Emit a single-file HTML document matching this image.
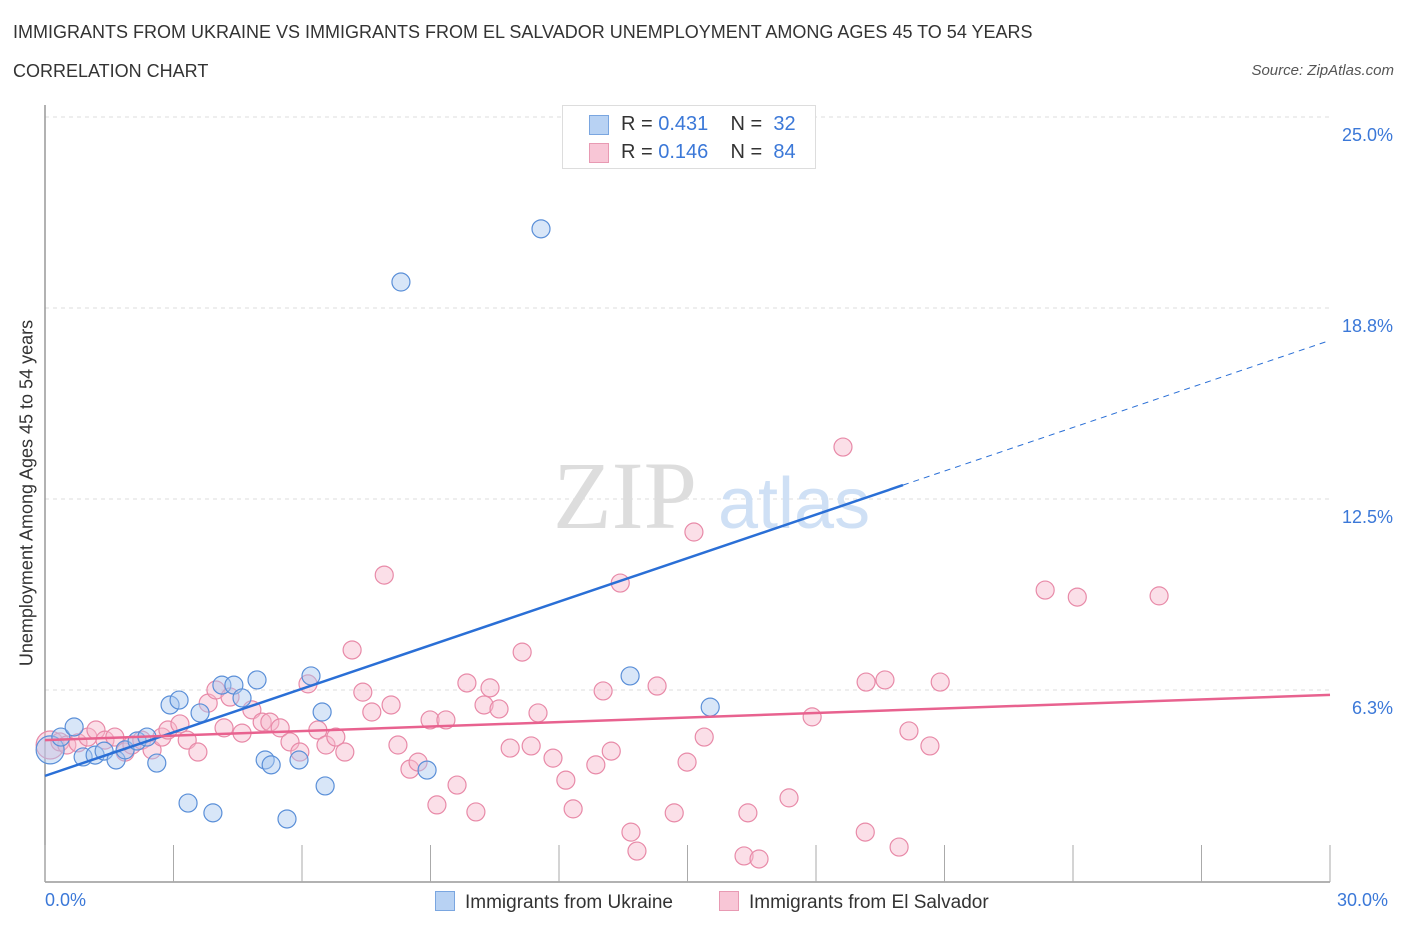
<!DOCTYPE html>
<html><head><meta charset="utf-8">
<style>
body{margin:0;background:#fff;font-family:"Liberation Sans",sans-serif;}
#wrap{position:relative;width:1406px;height:930px;overflow:hidden;}
.t{position:absolute;white-space:nowrap;}
</style></head><body>
<div id="wrap">
<div class="t" style="left:13px;top:22px;font-size:18px;color:#333;">IMMIGRANTS FROM UKRAINE VS IMMIGRANTS FROM EL SALVADOR UNEMPLOYMENT AMONG AGES 45 TO 54 YEARS</div>
<div class="t" style="left:13px;top:61px;font-size:18px;color:#333;">CORRELATION CHART</div>
<div class="t" style="right:12px;top:62px;font-size:15px;color:#555;font-style:italic;">Source: ZipAtlas.com</div>
<svg id="svg" width="1406" height="930" style="position:absolute;left:0;top:0;"></svg>
</div>
<script>
const ukraineX=[0.12,0.37,0.68,0.89,1.17,1.38,1.66,1.87,2.15,2.38,2.61,2.92,3.13,3.34,3.62,3.92,4.13,4.41,4.60,4.95,5.14,5.28,5.65,5.93,6.21,6.47,6.54,8.31,8.92,11.58,13.66,15.53];
const ukraineY=[4.29,4.71,5.04,4.06,4.12,4.25,3.96,4.29,4.58,4.71,3.86,5.76,5.92,2.55,5.50,2.23,6.41,6.41,5.99,6.58,3.96,3.80,2.03,3.96,6.71,5.53,3.11,19.60,3.63,21.34,6.71,5.69];
const salvX=[0.12,0.35,0.51,0.77,1.00,1.19,1.40,1.63,1.87,2.03,2.26,2.50,2.73,2.87,3.15,3.32,3.57,3.81,3.99,4.18,4.32,4.60,4.83,5.07,5.25,5.49,5.72,5.95,6.14,6.37,6.56,6.79,7.00,7.17,7.42,7.63,7.92,8.08,8.24,8.52,8.71,8.99,9.15,9.36,9.62,9.85,10.06,10.25,10.39,10.60,10.86,11.14,11.35,11.51,11.86,12.16,12.33,12.86,13.03,13.22,13.43,13.68,13.82,14.29,14.69,14.99,15.15,15.39,16.32,16.41,16.67,17.37,17.91,18.63,19.15,19.17,19.61,19.94,20.17,20.66,20.90,23.35,24.10,26.01];
const salvY=[4.45,4.55,4.45,4.52,4.71,4.94,4.61,4.71,4.22,4.45,4.61,4.29,4.71,4.94,5.14,4.61,4.22,5.82,6.25,5.01,6.02,4.84,5.60,5.20,5.20,5.01,4.55,4.22,6.45,4.94,4.45,4.71,4.22,7.56,6.18,5.53,10.01,5.76,4.45,3.66,3.89,5.27,2.49,5.27,3.14,6.48,2.26,5.76,6.32,5.63,4.35,7.49,4.42,5.50,4.02,3.30,2.36,3.80,6.22,4.25,9.75,1.60,0.98,6.38,2.23,3.89,11.42,4.71,0.82,2.23,0.72,2.72,5.37,14.20,1.60,6.51,6.58,1.11,4.91,4.42,6.51,9.52,9.29,9.33];
const yTicks=[6.25,12.5,18.75,25];
const yTickLabels=["6.3%","12.5%","18.8%","25.0%"];
const xTicks=[0,3,6,9,12,15,18,21,24,27,30];
const blueTrend=[3.44,0.475]; // intercept, slope
const pinkTrend=[4.61,0.0493];

const X=v=>45+v*(1285/30), Y=v=>881-v*(764/25);
const svg=document.getElementById('svg');
const NS='http://www.w3.org/2000/svg';
function mk(tag,a){const e=document.createElementNS(NS,tag);for(const k in a)e.setAttribute(k,a[k]);svg.appendChild(e);return e;}
// gridlines
yTicks.forEach((t,i)=>{
 const g=mk('line',{x1:45,x2:1330,y1:Y(t),y2:Y(t),stroke:'#ddd','stroke-dasharray':'4,4'});
 
 
 const l=mk('text',{x:1393,y:Y(t)+24,'text-anchor':'end','font-size':18,fill:'#3b78d8','font-family':'Liberation Sans'});
 l.textContent=yTickLabels[i];
 
 
});
mk('line',{x1:45,x2:1330,y1:Y(25),y2:Y(25),stroke:'#ddd','stroke-dasharray':'4,4'});
// axes
const ya=mk('line',{x1:45,x2:45,y1:105,y2:882,stroke:'#999','stroke-width':1.5});


const xa=mk('line',{x1:45,x2:1330,y1:882,y2:882,stroke:'#999','stroke-width':1.5});


xTicks.forEach(t=>{const k=mk('line',{x1:X(t),x2:X(t),y1:845,y2:882,stroke:'#aaa'});
 
 });
// watermark
const w1=mk('text',{x:553,y:528,'font-size':96,fill:'#ddd','font-family':'Liberation Serif'});w1.textContent='ZIP';


const w2=mk('text',{x:718,y:528,'font-size':72,fill:'#cfe0f5','font-family':'Liberation Sans'});w2.textContent='atlas';


// points
function pts(xs,ys,fill,stroke,name){xs.forEach((x,i)=>{
 const c=mk('circle',{cx:X(x),cy:Y(ys[i]),r:i===0?14:9,fill:fill,'fill-opacity':0.45,stroke:stroke,'stroke-width':1.2});
 
 });}
pts(salvX,salvY,'#f6b8cb','#e88aa8','point-el-salvador');
pts(ukraineX,ukraineY,'#a9c8ef','#5a8fd8','point-ukraine');
// trend lines
const bx=20.03;
const b1=mk('line',{x1:X(0),y1:Y(blueTrend[0]),x2:X(bx),y2:Y(blueTrend[0]+blueTrend[1]*bx),stroke:'#2a6fd6','stroke-width':2.5});


const b2=mk('line',{x1:X(bx),y1:Y(blueTrend[0]+blueTrend[1]*bx),x2:X(30),y2:Y(blueTrend[0]+blueTrend[1]*30),stroke:'#2a6fd6','stroke-width':1,'stroke-dasharray':'6,5'});


const p1=mk('line',{x1:X(0),y1:Y(pinkTrend[0]),x2:X(30),y2:Y(pinkTrend[0]+pinkTrend[1]*30),stroke:'#e8628f','stroke-width':2.5});


</script>
<div class="t" style="left:45px;top:890px;font-size:18px;color:#3b78d8;">0.0%</div>
<div class="t" style="left:1337px;top:890px;font-size:18px;color:#3b78d8;">30.0%</div>
<div class="t" style="left:27px;top:493px;font-size:18px;color:#333;transform:translate(-50%,-50%) rotate(-90deg);">Unemployment Among Ages 45 to 54 years</div>
<div style="position:absolute;left:562px;top:105px;width:252px;height:62px;border:1px solid #ddd;background:#fff;font-size:20px;color:#333;">
 <div style="position:absolute;left:26px;top:9px;width:18px;height:18px;background:#b8d2f3;border:1px solid #7aa6e0;"></div>
 <div class="t" style="left:58px;top:7px;">R = <span style="color:#3b78d8">0.431</span>&nbsp;&nbsp;&nbsp; N = &nbsp;<span style="color:#3b78d8">32</span></div>
 <div style="position:absolute;left:26px;top:37px;width:18px;height:18px;background:#f8c6d6;border:1px solid #e89ab3;"></div>
 <div class="t" style="left:58px;top:35px;">R = <span style="color:#3b78d8">0.146</span>&nbsp;&nbsp;&nbsp; N = &nbsp;<span style="color:#3b78d8">84</span></div>
</div>
<div style="position:absolute;left:435px;top:891px;font-size:19px;color:#333;">
 <span style="display:inline-block;width:18px;height:18px;background:#b8d2f3;border:1px solid #7aa6e0;vertical-align:-3px;margin-right:10px;"></span>Immigrants from Ukraine</div>
<div style="position:absolute;left:719px;top:891px;font-size:19px;color:#333;">
 <span style="display:inline-block;width:18px;height:18px;background:#f8c6d6;border:1px solid #e89ab3;vertical-align:-3px;margin-right:10px;"></span>Immigrants from El Salvador</div>
</body></html>
